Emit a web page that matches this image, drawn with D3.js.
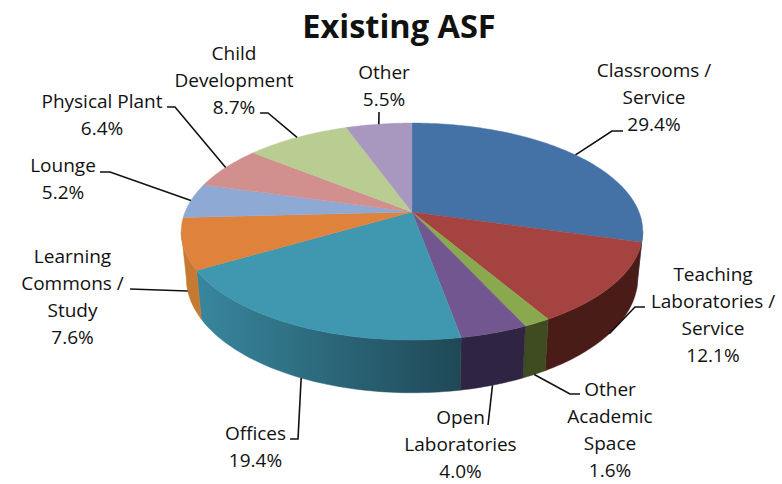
<!DOCTYPE html>
<html><head><meta charset="utf-8">
<style>html,body{margin:0;padding:0;background:#fff}svg{display:block}text{font-family:"Open Sans",Lato,sans-serif;fill:#111}</style>
<script src="https://cdn.jsdelivr.net/npm/d3@7/dist/d3.min.js"></script>
</head><body><svg id="c" width="782" height="484"></svg>
<script>
const chartTitle = "Existing ASF";
const categories = ["Classrooms / Service","Teaching Laboratories / Service","Other Academic Space","Open Laboratories","Offices","Learning Commons / Study","Lounge","Physical Plant","Child Development","Other"];
const values = [29.4,12.1,1.6,4.0,19.4,7.6,5.2,6.4,8.7,5.5];
const labelLines = [["Classrooms /","Service"],["Teaching","Laboratories /","Service"],["Other","Academic","Space"],["Open","Laboratories"],["Offices"],["Learning","Commons /","Study"],["Lounge"],["Physical Plant"],["Child","Development"],["Other"]];
const topColors = ["#4472a6","#a54341","#8aa94e","#71568f","#4097b0","#df823c","#8fa9d5","#d18f8d","#b9cd93","#a897bf"];
const wallStart = ["#3a6290","#4a1c17","#3f4b20","#2f2542","#38879e","#c67930","#7f97c0","#b97e7c","#a3b582","#9585aa"];
const wallEnd   = ["#3a6290","#4a1c17","#3f4b20","#2f2542","#1f4856","#c67930","#7f97c0","#b97e7c","#a3b582","#9585aa"];
// label placement: centre x, centre y of first line
const labelPos = [[654,70],[713,274],[610,389.5],[460.5,417.5],[255.5,433],[72.5,256],[63,165],[102,101],[234,53],[384,72]];
// leader line points on the label side, the rim end comes from the pie angle
const leaderPts = [[[623,131],[612,131]],[[645,307],[635,307]],[[580,394],[570,394]],[[488,425]],[[290,439],[298,439]],[[130,289]],[[100,172],[110,172]],[[167,107],[175,107]],[[260,113],[268,113]],[[379,112]]];

const svg = d3.select("#c");
const pie = d3.pie().sort(null).value(d=>d);
const arcs = pie(values);
const K = 0.18, CX = 412;
const topFace = {R:227,H:105,cy:212}, baseFace = {R:222,H:111,cy:257.4};
function proj(face,a){
  const X=Math.sin(a),Y=-Math.cos(a),w=1-K*Y;
  return [CX+face.R*X/w, face.cy+face.H*Y/w];
}
function arcPts(face,a0,a1){
  const n=Math.max(2,Math.ceil((a1-a0)/0.02)),o=[];
  for(let i=0;i<=n;i++)o.push(proj(face,a0+(a1-a0)*i/n));
  return o;
}
const line=d3.line();
const defs=svg.append("defs");
// visible walls: front part of the rim between the tangents
const tanA=Math.acos(-K), tanB=2*Math.PI-tanA;
const walls=svg.append("g");
arcs.forEach((d,i)=>{
  const a0=Math.max(d.startAngle,tanA),a1=Math.min(d.endAngle,tanB);
  if(a1<=a0)return;
  const t=arcPts(topFace,a0,a1),b=arcPts(baseFace,a0,a1).reverse();
  const xs=t.map(p=>p[0]);
  const id="w"+i;
  const g=defs.append("linearGradient").attr("id",id).attr("gradientUnits","userSpaceOnUse")
    .attr("x1",d3.min(xs)).attr("x2",d3.max(xs)).attr("y1",0).attr("y2",0);
  g.append("stop").attr("offset",0).attr("stop-color",wallStart[i]);
  g.append("stop").attr("offset",1).attr("stop-color",wallEnd[i]);
  walls.append("path").attr("d",line(t.concat(b))+"Z").attr("fill",`url(#${id})`).attr("stroke",`url(#${id})`).attr("stroke-width",0.5);
});
const tops=svg.append("g");
arcs.forEach((d,i)=>{
  const o=[[CX,topFace.cy]].concat(arcPts(topFace,d.startAngle,d.endAngle));
  tops.append("path").attr("d",line(o)+"Z").attr("fill",topColors[i]).attr("stroke",topColors[i]).attr("stroke-width",0.4);
});
// leaders
const lead=svg.append("g").attr("fill","none").attr("stroke","#111").attr("stroke-width",1.6);
arcs.forEach((d,i)=>{
  const m=(d.startAngle+d.endAngle)/2;
  const end=proj((m>tanA&&m<tanB)?baseFace:topFace,m);
  lead.append("path").attr("d",line(leaderPts[i].concat([end])));
});
// labels
svg.append("text").attr("x",399).attr("y",38).attr("text-anchor","middle").attr("font-size",32.5).attr("font-weight",700).text(chartTitle);
const lh=27;
categories.forEach((c,i)=>{
  const t=svg.append("text").attr("text-anchor","middle").attr("font-size",19);
  const ls=labelLines[i].concat([d3.format(".1f")(values[i])+"%"]);
  ls.forEach((s,j)=>t.append("tspan").attr("x",labelPos[i][0]).attr("y",labelPos[i][1]+j*lh+6.5).text(s));
});
</script></body></html>
